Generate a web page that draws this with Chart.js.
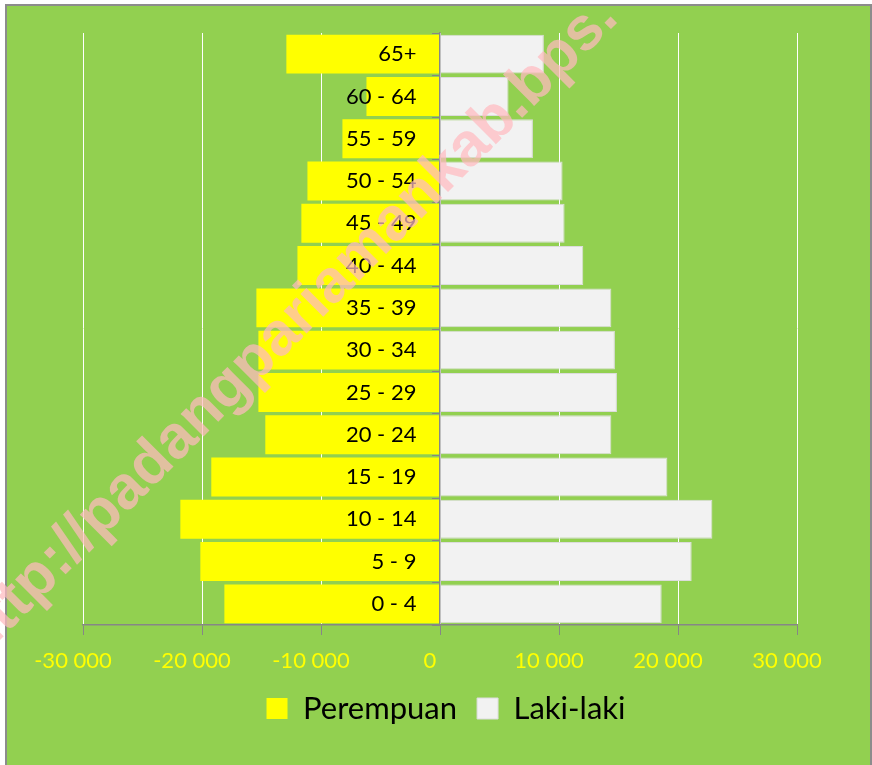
<!DOCTYPE html>
<html>
<head>
<meta charset="utf-8">
<script src="https://cdn.jsdelivr.net/npm/chart.js@4.4.1/dist/chart.umd.min.js"></script>
<style>
  body { margin: 0; background: #ffffff; }
  #frame {
    position: absolute; left: 5px; top: 4px; width: 863px; height: 780px;
    border: 2px solid #8c8c8c; background: #92d050;
  }
  #myChart { position: absolute; left: 0; top: 0; }
</style>
</head>
<body>
<div id="frame"></div>
<canvas id="myChart" width="872" height="765"></canvas>
<script>
  // age groups, bottom row first
  const ageGroups = ['0 - 4', '5 - 9', '10 - 14', '15 - 19', '20 - 24', '25 - 29', '30 - 34',
                     '35 - 39', '40 - 44', '45 - 49', '50 - 54', '55 - 59', '60 - 64', '65+'];
  const perempuan = [18120, 20140, 21820, 19220, 14680, 15260, 15260,
                     15430, 11980, 11650, 11140, 8200, 6180, 12910];
  const lakiLaki  = [18630, 21150, 22890, 19110, 14400, 14870, 14700,
                     14400, 12040, 10470, 10300, 7810, 5760, 8730];
  const xTicks = [-30000, -20000, -10000, 0, 10000, 20000, 30000];
  const watermark = 'http://padangpariamankab.bps.';

  const fmt = (v) => {
    const s = String(Math.abs(v)).replace(/\B(?=(\d{3})+(?!\d))/g, ' ');
    return (v < 0 ? '-' : '') + s;
  };

  const watermarkPlugin = {
    id: 'watermark',
    afterDraw(chart) {
      const c = chart.ctx;
      c.save();
      c.translate(-20, 660);
      c.rotate(-Math.PI / 4);
      c.font = 'bold 61px "Liberation Sans", Arial, sans-serif';
      c.fillStyle = 'rgba(255, 186, 191, 0.72)';
      c.textBaseline = 'alphabetic';
      c.textAlign = 'left';
      c.fillText(watermark, 0, 0);
      c.restore();
    }
  };

  // legend sits a bit right of the plot centre in the original
  const legendShift = {
    id: 'legendShift',
    afterLayout(chart) {
      chart.legend.left += 6;
      chart.legend.right += 6;
    }
  };

  const ctx = document.getElementById('myChart');
  new Chart(ctx, {
    type: 'bar',
    data: {
      labels: ageGroups,
      datasets: [
        {
          label: 'Perempuan',
          data: perempuan.map(v => -v),
          yAxisID: 'y',
          backgroundColor: '#ffff00',
          borderWidth: 0,
          barPercentage: 0.92,
          categoryPercentage: 1
        },
        {
          label: 'Laki-laki',
          data: lakiLaki,
          yAxisID: 'y',
          backgroundColor: '#f2f2f2',
          borderColor: '#dcdcdc',
          borderWidth: 1,
          barPercentage: 0.92,
          categoryPercentage: 1
        }
      ]
    },
    options: {
      indexAxis: 'y',
      responsive: false,
      animation: false,
      devicePixelRatio: 1,
      layout: { padding: { top: 33, left: 83, right: 75, bottom: 31 } },
      plugins: {
        tooltip: { enabled: false },
        legend: {
          position: 'bottom',
          labels: {
            boxWidth: 21,
            boxHeight: 21,
            padding: 20,
            color: '#000000',
            font: { family: 'Lato', size: 31 }
          }
        }
      },
      scales: {
        x: {
          stacked: true,
          min: -30000,
          max: 30000,
          afterBuildTicks: (scale) => { scale.ticks = xTicks.map(v => ({ value: v })); },
          afterFit: (scale) => { scale.height = 48; },
          grid: { color: '#ffffff', lineWidth: 1, tickColor: '#868686', tickLength: 10 },
          border: { color: '#868686', width: 1.5 },
          ticks: {
            color: '#ffff00',
            padding: 13,
            labelOffset: -10,
            maxRotation: 0,
            font: { family: 'Lato', size: 22 },
            callback: (v) => fmt(v)
          }
        },
        // axis line and tick marks at zero
        y: {
          stacked: true,
          reverse: true,
          position: { x: 0 },
          grid: { drawOnChartArea: false, tickColor: '#868686', tickLength: 7, z: 1 },
          border: { color: '#868686', width: 1.5, z: 1 },
          ticks: { display: false }
        },
        // age labels, drawn a little left of the zero line
        yLabels: {
          type: 'category',
          axis: 'y',
          reverse: true,
          offset: true,
          position: { x: -1980 },
          grid: { display: false },
          border: { display: false },
          ticks: {
            color: '#000000',
            z: 1,
            font: { family: 'Lato', size: 22 }
          }
        }
      }
    },
    plugins: [watermarkPlugin, legendShift]
  });
</script>
</body>
</html>
